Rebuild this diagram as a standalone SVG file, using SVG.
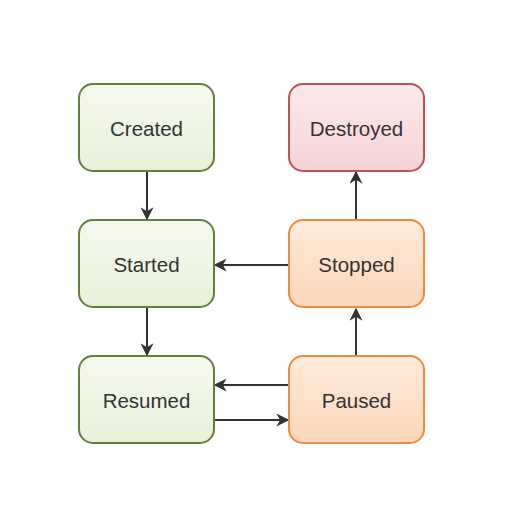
<svg xmlns="http://www.w3.org/2000/svg" width="512" height="512" viewBox="0 0 512 512">
<defs>
<linearGradient id="gG" x1="0" y1="0" x2="0" y2="1"><stop offset="0" stop-color="#f7faee"/><stop offset="1" stop-color="#e7f0d8"/></linearGradient>
<linearGradient id="gR" x1="0" y1="0" x2="0" y2="1"><stop offset="0" stop-color="#fbe9ea"/><stop offset="1" stop-color="#f4d3d5"/></linearGradient>
<linearGradient id="gO" x1="0" y1="0" x2="0" y2="1"><stop offset="0" stop-color="#fdebdc"/><stop offset="1" stop-color="#fcd6b9"/></linearGradient>
<marker id="ah" viewBox="0 0 10 10" refX="9" refY="5" markerWidth="13" markerHeight="13" markerUnits="userSpaceOnUse" orient="auto"><path d="M0,0 L10,5 L0,10 L3,5 Z" fill="#333"/></marker>
<style>
.g{fill:url(#gG);stroke:#62803a;stroke-width:2}
.r{fill:url(#gR);stroke:#c0505a;stroke-width:2}
.o{fill:url(#gO);stroke:#f08a3c;stroke-width:2}
text{font-family:"Liberation Sans",Arial,sans-serif;font-size:20.5px;fill:#333;text-anchor:middle;dominant-baseline:central}
.c{stroke:#333;stroke-width:2;fill:none;marker-end:url(#ah)}
</style>
</defs>
<rect width="512" height="512" fill="#fff"/>
<g id="connectors">
<line class="c" x1="147" y1="172" x2="147" y2="219"/>
<line class="c" x1="147" y1="308" x2="147" y2="355"/>
<line class="c" x1="288" y1="265" x2="215" y2="265"/>
<line class="c" x1="288" y1="385" x2="215" y2="385"/>
<line class="c" x1="215" y1="420" x2="288" y2="420"/>
<line class="c" x1="356" y1="356" x2="356" y2="309"/>
<line class="c" x1="356" y1="219" x2="356" y2="172"/>
</g>
<g id="created"><rect class="g" x="79" y="84" width="135" height="87" rx="14"/><text x="146.5" y="128">Created</text></g>
<g id="started"><rect class="g" x="79" y="220" width="135" height="87" rx="14"/><text x="146.5" y="264">Started</text></g>
<g id="resumed"><rect class="g" x="79" y="356" width="135" height="87" rx="14"/><text x="146.5" y="400">Resumed</text></g>
<g id="destroyed"><rect class="r" x="289" y="84" width="135" height="87" rx="14"/><text x="356.5" y="128">Destroyed</text></g>
<g id="stopped"><rect class="o" x="289" y="220" width="135" height="87" rx="14"/><text x="356.5" y="264">Stopped</text></g>
<g id="paused"><rect class="o" x="289" y="356" width="135" height="87" rx="14"/><text x="356.5" y="400">Paused</text></g>
</svg>
